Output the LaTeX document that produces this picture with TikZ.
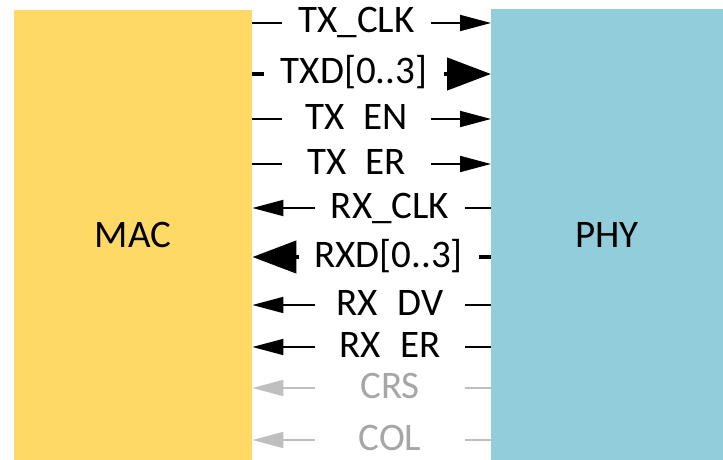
\documentclass[tikz,border=0pt]{standalone}
\usepackage{fontspec}
\setmainfont{Carlito}
\usetikzlibrary{arrows.meta}
\definecolor{macc}{HTML}{FFD966}
\definecolor{phyc}{HTML}{92CDDC}
\definecolor{dimline}{HTML}{BFBFBF}
\definecolor{dimtext}{HTML}{A6A6A6}
\begin{document}
\begin{tikzpicture}[x=1pt,y=-1pt,
  bigbox/.style={draw=none, inner sep=0, anchor=north west, font=\fontsize{39}{44}\selectfont},
  sig/.style={line width=1.8pt, -{Triangle[length=31pt,width=16pt]}},
  bus/.style={line width=4.5pt, -{Triangle[length=44pt,width=32pt]}},
  lab/.style={fill=white, inner xsep=0pt, inner ysep=0pt, text height=24pt, text depth=8pt,
    anchor=base, font=\fontsize{39}{44}\selectfont, minimum width=#1},
  lab/.default=149pt]
\useasboundingbox (0,0) rectangle (723,460);
\node[bigbox, fill=macc, minimum width=238pt, minimum height=450pt] (mac) at (14,10) {MAC};
\node[bigbox, fill=phyc, minimum width=232pt, minimum height=451pt] (phy) at (491,9) {PHY};
% transmit
\draw[sig] (mac.east |- 0,23) -- (phy.west |- 0,23);
\draw[bus] (mac.east |- 0,74) -- (phy.west |- 0,74);
\draw[sig] (mac.east |- 0,119) -- (phy.west |- 0,119);
\draw[sig] (mac.east |- 0,164) -- (phy.west |- 0,164);
% receive
\draw[sig] (phy.west |- 0,208) -- (mac.east |- 0,208);
\draw[bus] (phy.west |- 0,257) -- (mac.east |- 0,257);
\draw[sig] (phy.west |- 0,305) -- (mac.east |- 0,305);
\draw[sig] (phy.west |- 0,347) -- (mac.east |- 0,347);
\draw[sig, draw=dimline, fill=dimline] (phy.west |- 0,388) -- (mac.east |- 0,388);
\draw[sig, draw=dimline, fill=dimline] (phy.west |- 0,440) -- (mac.east |- 0,440);
% labels
\node[lab] (ltxclk) at (356.5,33) {TX\_CLK};
\node[lab=180pt] (ltxd) at (354,84) {TXD[0..3]};
\node[lab] (ltxen) at (356.5,129) {TX\hphantom{\_}EN};
\node[lab] (ltxer) at (356.5,174) {TX\hphantom{\_}ER};
\node[lab=150pt] (lrxclk) at (390,218) {RX\_CLK};
\node[lab=180pt] (lrxd) at (388.5,267) {RXD[0..3]};
\node[lab=150pt] (lrxdv) at (390,315) {RX\hphantom{\_}DV};
\node[lab=150pt] (lrxer) at (390,357) {RX\hphantom{\_}ER};
\node[lab=150pt, text=dimtext] (lcrs) at (390,398) {CRS};
\node[lab=150pt, text=dimtext] (lcol) at (390,450) {COL};
\end{tikzpicture}
\end{document}
